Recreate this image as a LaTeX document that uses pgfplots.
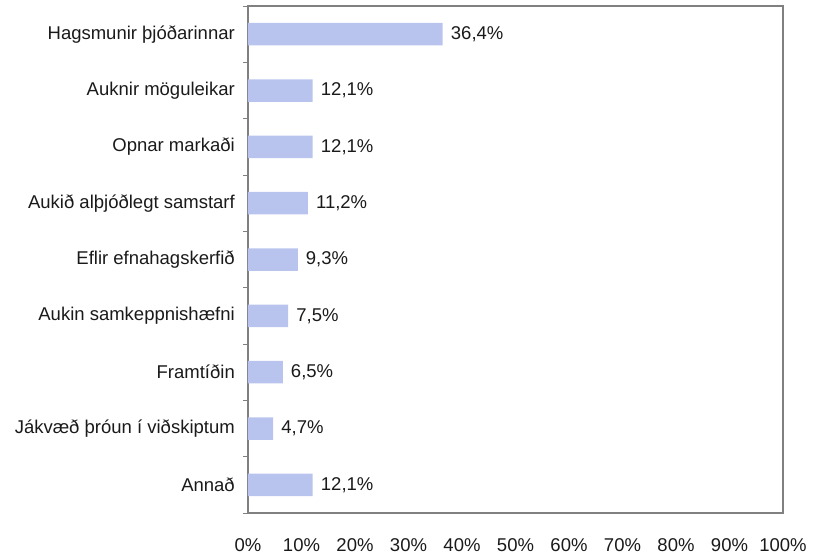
\documentclass[border=0pt]{standalone}
\usepackage{pgfplots}
\pgfplotsset{compat=1.18}
\usepackage{fontspec}
\setmainfont{Liberation Sans}
\definecolor{barcol}{RGB}{184,196,238}
\definecolor{axgray}{RGB}{128,128,128}
\definecolor{txt}{RGB}{26,26,26}
\begin{document}
\begin{tikzpicture}
\useasboundingbox (-248bp,-42bp) rectangle (568bp,513bp);
\begin{axis}[
  at={(0,0)}, anchor=south west,
  scale only axis, width=535bp, height=507bp,
  xbar, bar width=22.5bp,
  xmin=0, xmax=100, ymin=-0.5, ymax=8.5,
  y dir=reverse,
  axis line style={draw=axgray, line width=2bp},
  xtick={0,10,...,100},
  xticklabels={0\%,10\%,20\%,30\%,40\%,50\%,60\%,70\%,80\%,90\%,100\%},
  ytick={0,...,8},
  yticklabels={Hagsmunir þjóðarinnar,Auknir möguleikar,Opnar markaði,Aukið alþjóðlegt samstarf,Eflir efnahagskerfið,Aukin samkeppnishæfni,Framtíðin,Jákvæð þróun í viðskiptum,Annað},
  minor ytick={-0.5,0.5,...,8.5},
  major tick length=0pt, minor tick length=5bp,
  tick align=outside,
  xtick pos=bottom, ytick pos=left,
  tick style={draw=axgray, line width=1bp},
  /pgf/number format/assume math mode=true,
  every tick label/.append style={font=\fontsize{18.5bp}{22bp}\selectfont, text=txt},
  xticklabel style={anchor=center, yshift=-32bp, inner sep=0pt},
  yticklabel style={anchor=east, inner sep=0pt, xshift=-13bp},
  nodes near coords={\pgfmathprintnumber[use comma, fixed, precision=1, fixed zerofill]{\pgfplotspointmeta}\%},
  point meta=x,
  every node near coord/.append style={anchor=west, inner sep=0pt, xshift=8bp, font=\fontsize{18.5bp}{22bp}\selectfont, text=txt},
  clip=false,
]
\addplot[fill=barcol, draw=none] coordinates {
(36.4,0) (12.1,1) (12.1,2) (11.2,3) (9.3,4) (7.5,5) (6.5,6) (4.7,7) (12.1,8)
};
\end{axis}
\end{tikzpicture}
\end{document}
